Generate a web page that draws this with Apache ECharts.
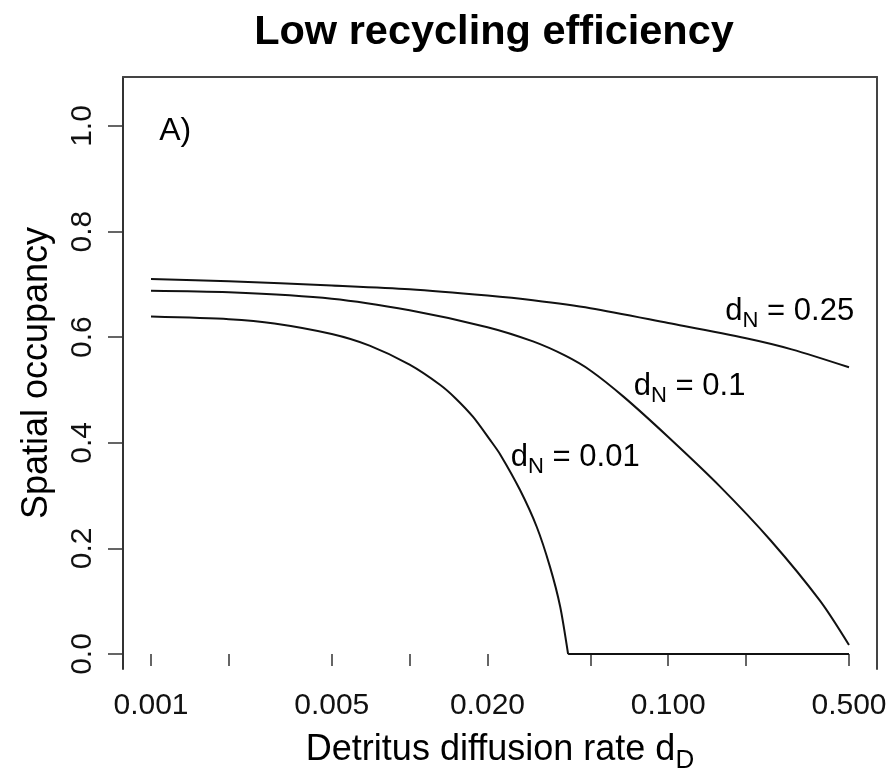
<!DOCTYPE html>
<html>
<head>
<meta charset="utf-8">
<script src="https://cdn.jsdelivr.net/npm/echarts@6/dist/echarts.min.js"></script>
<style>
html, body { margin: 0; background: #fff; }
#main { width: 891px; height: 775px; }
</style>
</head>
<body>
<div id="main"></div>
<script>
// 横轴：碎屑扩散率 dD（对数刻度），纵轴：空间占有率
const dD_025 = [0.001, 0.002, 0.005, 0.01, 0.02, 0.03, 0.05, 0.1, 0.2, 0.3, 0.5];
const occ_025 = [0.710, 0.706, 0.698, 0.691, 0.679, 0.670, 0.655, 0.627, 0.598, 0.577, 0.543];

const dD_01 = [0.001, 0.002, 0.005, 0.01, 0.02, 0.03, 0.04, 0.05, 0.0673, 0.1, 0.158, 0.249, 0.386, 0.5];
const occ_01 = [0.688, 0.685, 0.673, 0.651, 0.619, 0.592, 0.565, 0.537, 0.487, 0.411, 0.318, 0.215, 0.101, 0.017];

const dD_001 = [0.001, 0.002, 0.003, 0.005, 0.007, 0.01, 0.0131, 0.015, 0.0176, 0.0205, 0.0224, 0.0267, 0.031, 0.0349, 0.0382, 0.041, 0.5];
const occ_001 = [0.639, 0.634, 0.626, 0.606, 0.584, 0.548, 0.510, 0.485, 0.449, 0.405, 0.378, 0.311, 0.241, 0.165, 0.090, 0.0, 0.0];

// 刻度
const xTicks = [0.001, 0.002, 0.005, 0.01, 0.02, 0.05, 0.1, 0.2, 0.5];
const xLabels = [0.001, 0.005, 0.02, 0.1, 0.5];
const yTicks = [0, 0.2, 0.4, 0.6, 0.8, 1.0];

// 曲线标注 [dD, 占有率, 文本]
const curveLabels = [
	[0.295, 0.648, '0.25'],
	[0.121, 0.506, '0.1'],
	[0.0437, 0.373, '0.01'],
];

const FONT = 'Liberation Sans, Arial, Helvetica, sans-serif';
const lg = (v) => Math.log10(v);
const toPairs = (xs, ys) => xs.map((x, i) => [lg(x), ys[i]]);

const subRich = (size) => ({
	t: { fontSize: size, fontFamily: FONT, color: '#000', lineHeight: size + 4 },
	s: { fontSize: Math.round(size * 0.72), fontFamily: FONT, color: '#000', lineHeight: Math.round(size * 0.72), padding: [Math.round(size * 0.62), 0, 0, 0] },
});

const lineSeries = (name, data, smooth) => ({
	name: name,
	type: 'line',
	data: data,
	symbol: 'none',
	smooth: smooth,
	lineStyle: { color: '#111', width: 2 },
	silent: true,
});

// dN = 0.01 曲线：下降段平滑，落到 0 后为水平段
const pairs001 = toPairs(dD_001, occ_001);
const zeroAt = occ_001.indexOf(0);

const myChart = echarts.init(document.getElementById('main'));
myChart.setOption({
	animation: false,
	backgroundColor: '#fff',
	title: {
		text: 'Low recycling efficiency',
		left: 489,
		top: 7,
		textAlign: 'center',
		textStyle: { fontFamily: FONT, fontSize: 41.5, fontWeight: 'bold', color: '#000' },
	},
	grid: { left: 123, right: 14, top: 77, bottom: 106, containLabel: false, outerBoundsMode: 'none' },
	xAxis: [
		{
			type: 'value',
			min: lg(0.001) - 0.1083,
			max: lg(0.5) + 0.1083,
			name: '{t|Detritus diffusion rate d}{s|D}',
			nameLocation: 'middle',
			nameGap: 61,
			nameTextStyle: { rich: subRich(36) },
			axisLine: { show: false },
			splitLine: { show: false },
			axisTick: {
				show: true,
				inside: false,
				length: 12,
				customValues: xTicks.map(lg),
				lineStyle: { color: '#333', width: 1.5 },
			},
			axisLabel: {
				customValues: xLabels.map(lg),
				formatter: (v) => Math.pow(10, v).toFixed(3),
				fontFamily: FONT,
				fontSize: 30,
				color: '#111',
				margin: 22,
			},
		},
		{
			// 顶部边框
			type: 'value',
			position: 'top',
			min: lg(0.001) - 0.1083,
			max: lg(0.5) + 0.1083,
			axisLine: { show: true, onZero: false, lineStyle: { color: '#444', width: 2 } },
			axisTick: { show: false },
			axisLabel: { show: false },
			splitLine: { show: false },
		},
	],
	yAxis: [
		{
			type: 'value',
			min: -0.0284,
			max: 1.0928,
			name: 'Spatial occupancy',
			nameLocation: 'middle',
			nameGap: 68,
			nameTextStyle: { fontFamily: FONT, fontSize: 36, color: '#000' },
			axisLine: { show: true, onZero: false, lineStyle: { color: '#333', width: 2 } },
			splitLine: { show: false },
			axisTick: {
				show: true,
				length: 15,
				customValues: yTicks,
				lineStyle: { color: '#333', width: 1.5 },
			},
			axisLabel: {
				customValues: yTicks,
				formatter: (v) => v.toFixed(1),
				rotate: 90,
				fontFamily: FONT,
				fontSize: 30,
				color: '#111',
				margin: 25,
			},
		},
		{
			// 右侧边框
			type: 'value',
			position: 'right',
			min: -0.0284,
			max: 1.0928,
			axisLine: { show: true, onZero: false, lineStyle: { color: '#444', width: 2 } },
			axisTick: { show: false },
			axisLabel: { show: false },
			splitLine: { show: false },
		},
	],
	series: [
		lineSeries('dN = 0.25', toPairs(dD_025, occ_025), 0.3),
		lineSeries('dN = 0.1', toPairs(dD_01, occ_01), 0.3),
		lineSeries('dN = 0.01 flat', pairs001.slice(zeroAt), false),
		Object.assign(lineSeries('dN = 0.01', pairs001.slice(0, zeroAt + 1), 0.25), {
			markPoint: {
				symbol: 'circle',
				symbolSize: 0,
				silent: true,
				label: {
					show: true,
					position: 'inside',
					formatter: (p) => p.name,
					rich: subRich(31),
				},
				data: curveLabels
					.map((c) => ({ name: '{t|d}{s|N}{t| = ' + c[2] + '}', coord: [lg(c[0]), c[1]] }))
					.concat([
						{
							name: 'A)',
							coord: [lg(0.00124), 0.99],
							label: { formatter: 'A)', fontSize: 32, fontFamily: FONT, color: '#000' },
						},
					]),
			},
		}),
	],
});
</script>
</body>
</html>
